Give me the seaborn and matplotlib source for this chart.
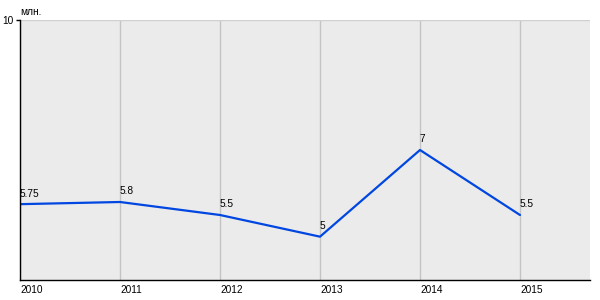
import matplotlib
matplotlib.use("Agg")
import matplotlib.pyplot as plt
import seaborn as sns
import pandas as pd

years = [2010, 2011, 2012, 2013, 2014, 2015]
values = [5.75, 5.8, 5.5, 5.0, 7.0, 5.5]
value_labels = ["5.75", "5.8", "5.5", "5", "7", "5.5"]
unit_label = "млн."

sns.set_style("white")
plt.rcParams['font.family'] = ['Liberation Sans', 'DejaVu Sans']
plt.rcParams['text.color'] = 'black'
plt.rcParams['xtick.color'] = 'black'
plt.rcParams['ytick.color'] = 'black'

df = pd.DataFrame({"year": years, "value": values})

fig = plt.figure(figsize=(6, 3), dpi=100)
ax = fig.add_axes([20/600, 20/300, 570/600, 260/300])
ax.set_facecolor("#EBEBEB")

sns.lineplot(data=df, x="year", y="value", ax=ax, color="#0046E0", linewidth=1.6)

ax.set_xlim(2010, 2015.7)
ax.set_ylim(4, 10)
ax.set_xticks(years)
ax.set_xticklabels([str(y) for y in years], fontsize=7.3, ha="left")
ax.set_yticks([10])
ax.set_yticklabels(["10"], fontsize=7.3)
ax.tick_params(axis="x", length=0, pad=3.5)
ax.tick_params(axis="y", length=3, width=1, pad=2, color="black", left=True)

ax.grid(axis="x", color="#C4C4C4", linewidth=1)
ax.grid(axis="y", visible=False)
ax.set_xlabel("")
ax.set_ylabel("")

for s in ["top", "right"]:
    ax.spines[s].set_visible(False)
ax.spines["left"].set_color("black")
ax.spines["bottom"].set_color("black")
ax.spines["left"].set_linewidth(1.0)
ax.spines["bottom"].set_linewidth(1.0)
ax.axhline(10, color="#D0D0D0", linewidth=1)

for x, y, t in zip(years, values, value_labels):
    ax.annotate(t, (x, y), xytext=(0, 4), textcoords="offset points",
                fontsize=7.3, ha="left", va="bottom")

ax.text(0.001, 1.012, unit_label, transform=ax.transAxes, fontsize=7.3,
        ha="left", va="bottom")

fig.savefig("out.png", dpi=100)
